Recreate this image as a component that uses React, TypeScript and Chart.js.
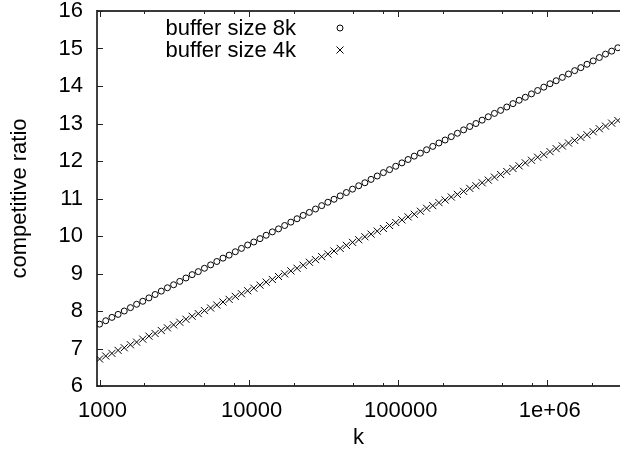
import React, { useEffect, useRef } from "react";
import { Chart, registerables } from "chart.js";

Chart.register(...registerables);

// k values (x axis, log scale)
const kValues = [
  1000, 1100, 1210, 1331, 1464, 1611, 1772, 1949, 2144, 2358,
  2594, 2853, 3138, 3452, 3797, 4177, 4595, 5054, 5560, 6116,
  6727, 7400, 8140, 8954, 9850, 10835, 11918, 13110, 14421, 15863,
  17449, 19194, 21114, 23225, 25548, 28102, 30913, 34004, 37404, 41145,
  45259, 49785, 54764, 60240, 66264, 72890, 80180, 88198, 97017, 106719,
  117391, 129130, 142043, 156247, 171872, 189059, 207965, 228762, 251638, 276801,
  304482, 334930, 368423, 405265, 445792, 490371, 539408, 593349, 652684, 717952,
  789747, 868722, 955594, 1051153, 1156269, 1271896, 1399085, 1538994, 1692893, 1862182,
  2048400, 2253240, 2478564, 2726421, 2999063,
];

// competitive ratio, buffer size 8k (circles)
const ratio8k = [
  7.65, 7.74, 7.83, 7.91, 8.0, 8.09, 8.18, 8.26, 8.35, 8.44,
  8.53, 8.62, 8.7, 8.79, 8.88, 8.97, 9.05, 9.14, 9.23, 9.32,
  9.41, 9.49, 9.58, 9.67, 9.76, 9.84, 9.93, 10.02, 10.11, 10.19,
  10.28, 10.37, 10.46, 10.55, 10.63, 10.72, 10.81, 10.9, 10.98, 11.07,
  11.16, 11.25, 11.34, 11.42, 11.51, 11.6, 11.69, 11.77, 11.86, 11.95,
  12.04, 12.13, 12.21, 12.3, 12.39, 12.48, 12.56, 12.65, 12.74, 12.83,
  12.92, 13.0, 13.09, 13.18, 13.27, 13.35, 13.44, 13.53, 13.62, 13.7,
  13.79, 13.88, 13.97, 14.06, 14.14, 14.23, 14.32, 14.41, 14.49, 14.58,
  14.67, 14.76, 14.85, 14.93, 15.02,
];

// competitive ratio, buffer size 4k (crosses)
const ratio4k = [
  6.72, 6.8, 6.87, 6.95, 7.02, 7.1, 7.17, 7.25, 7.33, 7.4,
  7.48, 7.55, 7.63, 7.7, 7.78, 7.86, 7.93, 8.01, 8.08, 8.16,
  8.24, 8.31, 8.39, 8.46, 8.54, 8.61, 8.69, 8.77, 8.84, 8.92,
  8.99, 9.07, 9.14, 9.22, 9.3, 9.37, 9.45, 9.52, 9.6, 9.67,
  9.75, 9.83, 9.9, 9.98, 10.05, 10.13, 10.2, 10.28, 10.36, 10.43,
  10.51, 10.58, 10.66, 10.74, 10.81, 10.89, 10.96, 11.04, 11.11, 11.19,
  11.27, 11.34, 11.42, 11.49, 11.57, 11.64, 11.72, 11.8, 11.87, 11.95,
  12.02, 12.1, 12.17, 12.25, 12.33, 12.4, 12.48, 12.55, 12.63, 12.7,
  12.78, 12.86, 12.93, 13.01, 13.08,
];

const seriesLabels = ["buffer size 8k", "buffer size 4k"];
const xTickValues = [1000, 10000, 100000, 1000000];
const xTickLabels = ["1000", "10000", "100000", "1e+06"];
const xMinorFactors = [2, 5, 8];
const yTickValues = [6, 7, 8, 9, 10, 11, 12, 13, 14, 15, 16];
const xAxisTitle = "k";
const yAxisTitle = "competitive ratio";
const X_MIN = 961;
const X_MAX = 3100000;
const Y_MIN = 6;
const Y_MAX = 16;

const FONT_FAMILY = "'Liberation Sans', Arial, Helvetica, sans-serif";
const FONT = { family: FONT_FAMILY, size: 22 };

const framePlugin = {
  id: "gnuFrame",
  afterDraw(chart: any) {
    const { ctx, chartArea: a, scales } = chart;
    const xs = scales.x;
    const ys = scales.y;
    ctx.save();
    // border lines
    ctx.strokeStyle = "#3a3a3a";
    ctx.lineWidth = 2;
    ctx.beginPath();
    ctx.moveTo(a.left, a.top);
    ctx.lineTo(a.right, a.top);
    ctx.moveTo(a.left, a.bottom);
    ctx.lineTo(a.right, a.bottom);
    ctx.stroke();
    ctx.strokeStyle = "#000";
    ctx.lineWidth = 1.5;
    ctx.beginPath();
    ctx.moveTo(a.left, a.top - 1);
    ctx.lineTo(a.left, a.bottom + 1);
    ctx.stroke();

    // inward ticks
    ctx.strokeStyle = "#222";
    ctx.lineWidth = 1;
    ctx.beginPath();
    for (const v of yTickValues) {
      const py = Math.round(ys.getPixelForValue(v)) + 0.5;
      ctx.moveTo(a.left, py);
      ctx.lineTo(a.left + 6, py);
    }
    for (const v of xTickValues) {
      const px = Math.round(xs.getPixelForValue(v)) + 0.5;
      ctx.moveTo(px, a.bottom);
      ctx.lineTo(px, a.bottom - 6);
      ctx.moveTo(px, a.top);
      ctx.lineTo(px, a.top + 6);
      for (const f of xMinorFactors) {
        const mv = v * f;
        if (mv > X_MAX) continue;
        const mx = Math.round(xs.getPixelForValue(mv)) + 0.5;
        ctx.moveTo(mx, a.bottom);
        ctx.lineTo(mx, a.bottom - 3);
        ctx.moveTo(mx, a.top);
        ctx.lineTo(mx, a.top + 3);
      }
    }
    ctx.stroke();

    // legend (gnuplot style: right-aligned text, sample on the right)
    ctx.fillStyle = "#000";
    ctx.font = `${FONT.size}px ${FONT_FAMILY}`;
    ctx.textAlign = "right";
    ctx.textBaseline = "middle";
    const textRight = 296;
    const markX = 340;
    const rows = [29, 51];
    ctx.fillText(seriesLabels[0], textRight, rows[0]);
    ctx.fillText(seriesLabels[1], textRight, rows[1]);
    ctx.strokeStyle = "#000";
    ctx.lineWidth = 1;
    ctx.beginPath();
    ctx.arc(markX, rows[0] - 1, 3, 0, Math.PI * 2);
    ctx.stroke();
    const d = 3.5;
    ctx.beginPath();
    ctx.moveTo(markX - d, rows[1] - 1 - d);
    ctx.lineTo(markX + d, rows[1] - 1 + d);
    ctx.moveTo(markX - d, rows[1] - 1 + d);
    ctx.lineTo(markX + d, rows[1] - 1 - d);
    ctx.stroke();
    ctx.restore();
  },
};

const zeroPad = (s: any) => {
  s.paddingLeft = 0;
  s.paddingRight = 0;
  s.paddingTop = 0;
  s.paddingBottom = 0;
};

export default function App() {
  const canvasRef = useRef<HTMLCanvasElement | null>(null);

  useEffect(() => {
    const canvas = canvasRef.current;
    if (!canvas) return;
    const chart = new Chart(canvas, {
      type: "scatter",
      data: {
        datasets: [
          {
            label: seriesLabels[0],
            data: kValues.map((k, i) => ({ x: k, y: ratio8k[i] })),
            pointStyle: "circle",
            pointRadius: 3,
            borderWidth: 1,
            borderColor: "#000",
            backgroundColor: "rgba(0,0,0,0)",
            showLine: false,
          },
          {
            label: seriesLabels[1],
            data: kValues.map((k, i) => ({ x: k, y: ratio4k[i] })),
            pointStyle: "crossRot",
            pointRadius: 5,
            borderWidth: 1,
            borderColor: "#000",
            backgroundColor: "#000",
            showLine: false,
          },
        ],
      },
      plugins: [framePlugin],
      options: {
        animation: false,
        responsive: false,
        maintainAspectRatio: false,
        events: [],
        layout: { autoPadding: false, padding: { top: 11, right: 0, left: 0, bottom: 0 } },
        plugins: {
          legend: { display: false },
          tooltip: { enabled: false },
        },
        scales: {
          x: {
            type: "logarithmic",
            min: X_MIN,
            max: X_MAX,
            grid: { display: false, drawTicks: false },
            border: { display: false },
            afterBuildTicks: (s: any) => {
              s.ticks = xTickValues.map((v) => ({ value: v }));
            },
            ticks: {
              autoSkip: false,
              maxRotation: 0,
              padding: 12,
              labelOffset: 3,
              color: "#000",
              font: FONT,
              callback: (_v: any, i: number) => xTickLabels[i],
            },
            title: {
              display: true,
              text: xAxisTitle,
              color: "#000",
              font: FONT,
              padding: { top: 0, bottom: 5 },
            },
            afterFit: (s: any) => {
              s.height = 70;
              zeroPad(s);
            },
          },
          y: {
            type: "linear",
            min: Y_MIN,
            max: Y_MAX,
            grid: { display: false, drawTicks: false },
            border: { display: false },
            afterBuildTicks: (s: any) => {
              s.ticks = yTickValues.map((v) => ({ value: v }));
            },
            ticks: {
              padding: 14,
              color: "#000",
              font: FONT,
              callback: (v: any) => String(v),
            },
            title: {
              display: true,
              text: yAxisTitle,
              color: "#000",
              font: FONT,
              padding: { top: 7, bottom: 0 },
            },
            afterFit: (s: any) => {
              s.width = 97;
              zeroPad(s);
            },
          },
        },
      },
    } as any);
    return () => chart.destroy();
  }, []);

  return (
    <div style={{ position: "absolute", left: 0, top: 0, width: 620, height: 456, background: "#fff" }}>
      <canvas ref={canvasRef} width={620} height={456} style={{ display: "block", width: 620, height: 456 }} />
    </div>
  );
}
